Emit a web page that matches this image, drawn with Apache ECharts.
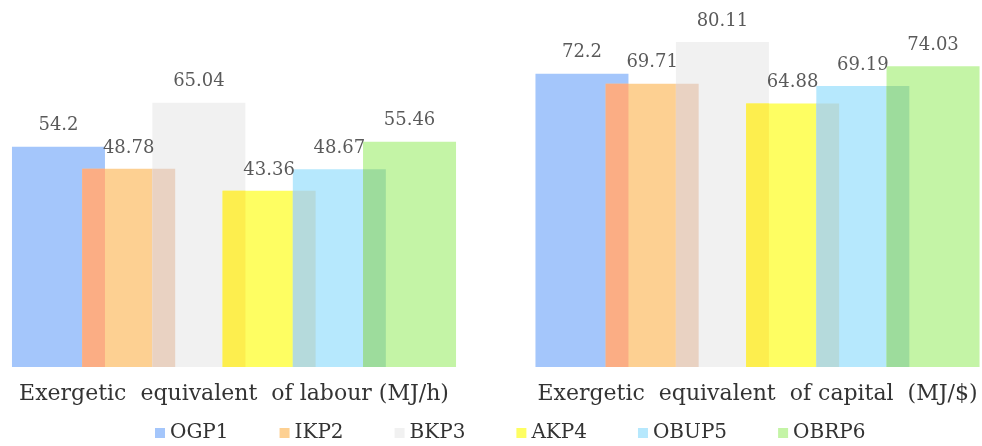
<!DOCTYPE html>
<html>
<head>
<meta charset="utf-8">
<script src="https://cdn.jsdelivr.net/npm/echarts@6/dist/echarts.min.js"></script>
<style>html,body{margin:0;padding:0;background:#fff}#c{width:982px;height:446px}</style>
</head>
<body>
<div id="c"></div>
<script>
const categories = ['Exergetic  equivalent  of labour (MJ/h)', 'Exergetic  equivalent  of capital  (MJ/$)'];
const seriesNames = ['OGP1', 'IKP2', 'BKP3', 'AKP4', 'OBUP5', 'OBRP6'];
const OGP1 = [54.2, 72.2];
const IKP2 = [48.78, 69.71];
const BKP3 = [65.04, 80.11];
const AKP4 = [43.36, 64.88];
const OBUP5 = [48.67, 69.19];
const OBRP6 = [55.46, 74.03];
const values = [OGP1, IKP2, BKP3, AKP4, OBUP5, OBRP6];

const colors = ['#a4c6fb', '#fdd092', '#f1f1f1', '#fefe62', '#b6e8fd', '#c4f4a6'];
const overlapColors = ['#fbad84', '#e9d2c2', '#fdee4e', '#b5dadc', '#9ddc9c'];
const BAR_W = 93;
const GAP = -0.245;

const font = 'DejaVu Serif';
const series = [];
seriesNames.forEach((name, j) => {
  for (let g = 0; g < 2; g++) {
    series.push({
      name: name,
      type: 'bar',
      xAxisIndex: g, yAxisIndex: g,
      data: [values[j][g]],
      barWidth: BAR_W,
      barGap: (GAP * 100) + '%',
      barCategoryGap: 0,
      itemStyle: { color: colors[j] },
      label: { show: true, position: 'top', distance: 12, color: '#5a5a5a', fontFamily: font, fontSize: 18 },
      silent: true
    });
  }
});
// overlap strips where neighbouring bars intersect
for (let g = 0; g < 2; g++) {
  const ovData = [];
  for (let j = 0; j < 5; j++) ovData.push([0, Math.min(values[j][g], values[j + 1][g]), j]);
  series.push({
    type: 'custom',
    xAxisIndex: g, yAxisIndex: g,
    z: 5,
    silent: true,
    data: ovData,
    renderItem: function (params, api) {
      const j = api.value(2);
      const base = api.coord([0, 0]);
      const top = api.coord([0, api.value(1)]);
      const g = -GAP * BAR_W;
      const total = 6 * BAR_W - 5 * g;
      const x = base[0] - total / 2 + (j + 1) * (BAR_W - g);
      return { type: 'rect', shape: { x: x, y: top[1], width: g, height: base[1] - top[1] }, style: { fill: overlapColors[j] } };
    }
  });
}

const chart = echarts.init(document.getElementById('c'), null, { renderer: 'canvas' });
const xAx = (i) => ({
  type: 'category', gridIndex: i, data: [categories[i]],
  axisLine: { show: false }, axisTick: { show: false },
  axisLabel: { color: '#333', fontFamily: font, fontSize: 22, margin: 16 }
});
const yAx = (i) => ({ type: 'value', gridIndex: i, min: 0, max: 80, show: false, splitLine: { show: false } });
chart.setOption({
  animation: false,
  grid: [
    { left: 10, width: 448, top: 42, bottom: 79 },
    { left: 533, width: 449, top: 42, bottom: 79 }
  ],
  xAxis: [xAx(0), xAx(1)],
  yAxis: [yAx(0), yAx(1)],
  legend: {
    data: seriesNames,
    left: 150, top: 418,
    itemWidth: 10, itemHeight: 10, itemGap: 51,
    icon: 'rect',
    textStyle: { color: '#333', fontFamily: font, fontSize: 20 }
  },
  series: series
});
</script>
</body>
</html>
